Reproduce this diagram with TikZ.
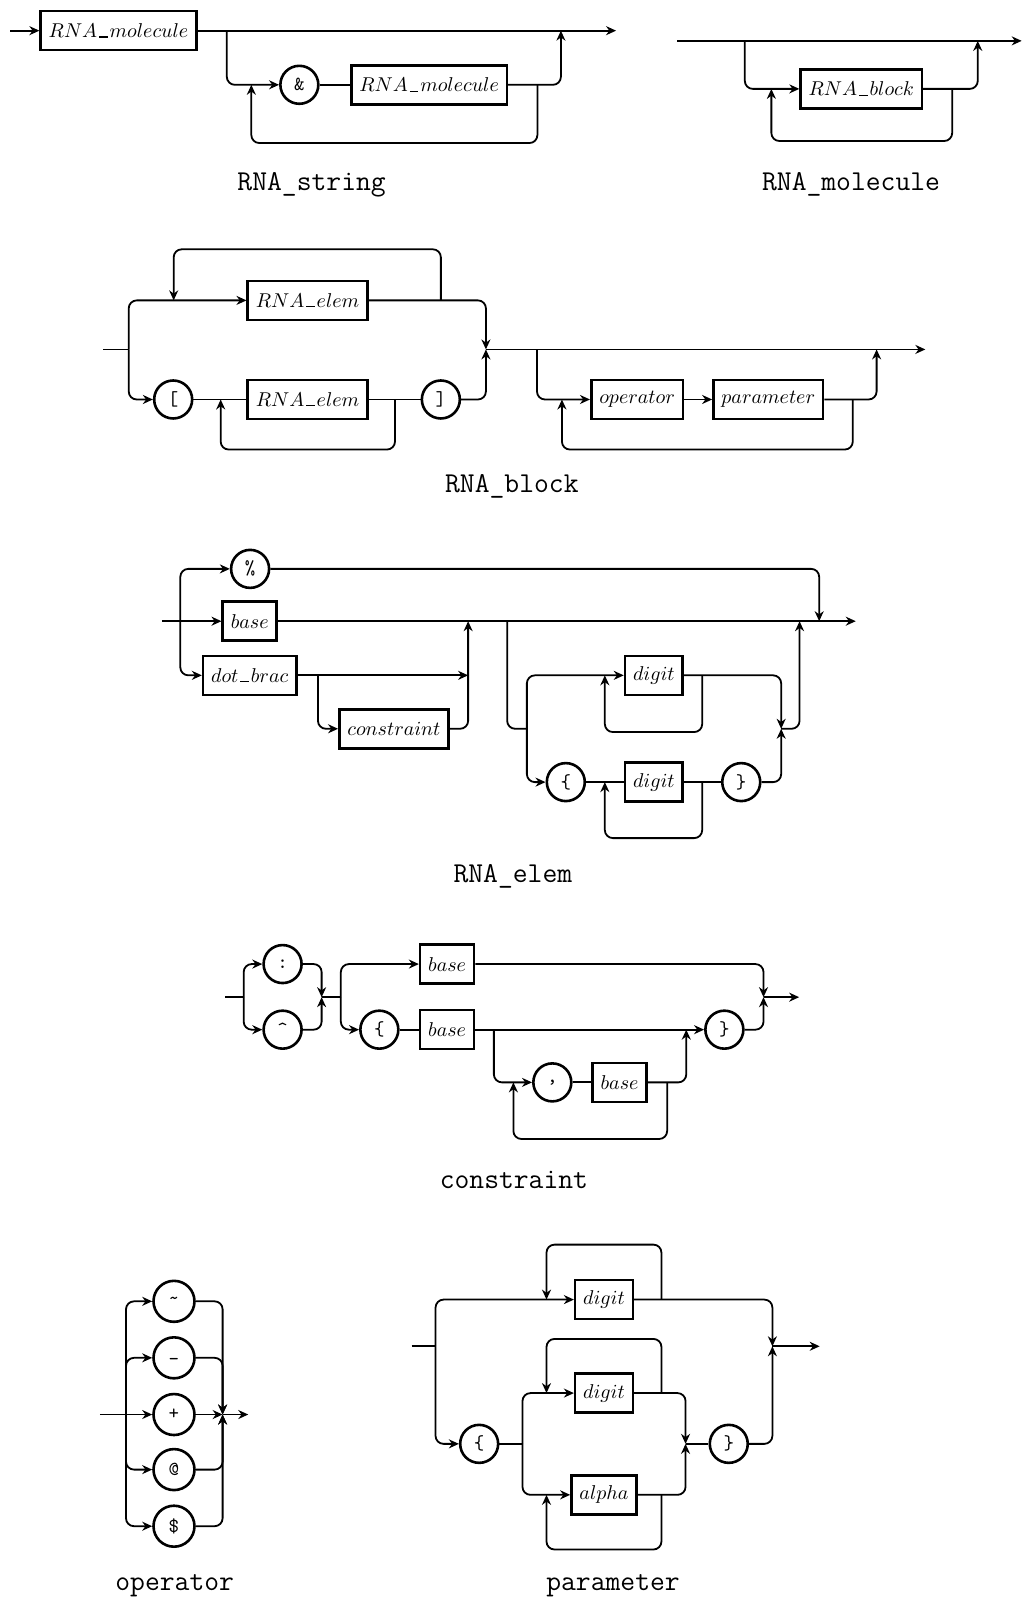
\documentclass[tikz,border=0pt]{standalone}
\usepackage{tikz}
\usetikzlibrary{arrows.meta, positioning}

\newcommand{\uscore}{\mbox{\kern.1em\rule{.42em}{.6pt}\kern.1em}}

\tikzset{
  nt/.style={rectangle, draw, line width=1.3pt, minimum height=19.5pt,
             inner xsep=4pt, inner ysep=0pt},
  tm/.style={circle, draw, line width=1.3pt, minimum size=19pt,
             inner sep=0pt, font=\ttfamily},
  rail/.style={line width=0.9pt, rounded corners=4pt},
  arr/.style={rail, -{Stealth[length=5pt,width=4.5pt]}},
  caption/.style={font=\Large\ttfamily}
}

\begin{document}
\begin{tikzpicture}[x=0.511pt, y=-0.511pt]
  \useasboundingbox (0,0) rectangle (1001,1568);

  % RNA_string
  \coordinate (s-in) at (10,30);
  \node[nt] (s-mol1) at (116,30) {$RNA\uscore molecule$};
  \coordinate (s-split) at (222,30);
  \coordinate (s-join) at (549,30);
  \coordinate (s-out) at (603,30);
  \node[tm] (s-amp) at (293,83) {\&};
  \node[nt] (s-mol2) at (420,83) {$RNA\uscore molecule$};
  \coordinate (s-back) at (526,83);
  \coordinate (s-ret) at (246,83);
  \node[caption] (s-cap) at (305,181) {RNA\_string};

  \draw[arr] (s-in) -- (s-mol1);
  \draw[arr] (s-mol1) -- (s-out);
  \draw[arr] (s-split) |- (s-amp);
  \draw[rail] (s-amp) -- (s-mol2);
  \draw[arr] (s-mol2) -| (s-join);
  \draw[arr] (s-back) -- ++(0,57) -| (s-ret);

  % RNA_molecule
  \coordinate (m-in) at (663,40);
  \coordinate (m-split) at (729,40);
  \coordinate (m-join) at (957,40);
  \coordinate (m-out) at (1000,40);
  \node[nt] (m-blk) at (843,87) {$RNA\uscore block$};
  \coordinate (m-back) at (932,87);
  \coordinate (m-ret) at (755,87);
  \node[caption] (m-cap) at (833,180) {RNA\_molecule};

  \draw[arr] (m-in) -- (m-out);
  \draw[arr] (m-split) |- (m-blk);
  \draw[arr] (m-blk) -| (m-join);
  \draw[arr] (m-back) -- ++(0,51) -| (m-ret);

  % RNA_block
  \coordinate (b-in) at (101,342);
  \coordinate (b-split) at (126,342);
  \coordinate (b-merge) at (475.6,342);
  \node[nt] (b-elem1) at (301,294) {$RNA\uscore elem$};
  \node[tm] (b-lbr) at (169.5,391) {[};
  \node[nt] (b-elem2) at (301,391) {$RNA\uscore elem$};
  \node[tm] (b-rbr) at (431.5,391) {]};
  \coordinate (b-topback) at (431.5,294);
  \coordinate (b-topret) at (170,294);
  \coordinate (b-botback) at (386.6,391);
  \coordinate (b-botret) at (216,391);
  \coordinate (b-split2) at (525.6,342);
  \node[nt] (b-op) at (623.6,391) {$operator$};
  \node[nt] (b-par) at (752,391) {$parameter$};
  \coordinate (b-join) at (858,342);
  \coordinate (b-out) at (905.7,342);
  \coordinate (b-back) at (834.7,391);
  \coordinate (b-ret) at (550,391);
  \node[caption] (b-cap) at (501,476) {RNA\_block};

  \draw[rail] (b-in) -- (b-split);
  \draw[arr] (b-split) |- (b-elem1);
  \draw[arr] (b-split) |- (b-lbr);
  \draw[arr] (b-elem1) -| (b-merge);
  \draw[arr] (b-topback) -- ++(0,-50) -| (b-topret);
  \draw[rail] (b-lbr) -- (b-elem2);
  \draw[rail] (b-elem2) -- (b-rbr);
  \draw[arr] (b-botback) -- ++(0,49) -| (b-botret);
  \draw[arr] (b-rbr) -| (b-merge);
  \draw[arr] (b-merge) -- (b-out);
  \draw[arr] (b-split2) |- (b-op);
  \draw[arr] (b-op) -- (b-par);
  \draw[arr] (b-par) -| (b-join);
  \draw[arr] (b-back) -- ++(0,49) -| (b-ret);

  % RNA_elem
  \coordinate (e-in) at (158.5,608);
  \coordinate (e-split) at (176.5,608);
  \node[tm] (e-pct) at (244.8,556.8) {\%};
  \node[nt] (e-base) at (244.4,608) {$base$};
  \node[nt] (e-dot) at (244.4,661) {$dot\uscore brac$};
  \coordinate (e-pmerge) at (801.8,608);
  \coordinate (e-out) at (837.6,608);
  \coordinate (e-dmid) at (458.2,661);
  \coordinate (e-dsplit) at (311.2,661);
  \node[nt] (e-con) at (385.6,713.3) {$constraint$};
  \coordinate (e-cjoin) at (458.2,608);
  \coordinate (e-split2) at (496.4,608);
  \coordinate (e-fork) at (515.7,713.3);
  \node[nt] (e-dig1) at (640,661) {$digit$};
  \node[tm] (e-lcb) at (553.8,765.5) {\{};
  \node[nt] (e-dig2) at (640,765.5) {$digit$};
  \node[tm] (e-rcb) at (725.5,765.5) {\}};
  \coordinate (e-d1back) at (687.3,661);
  \coordinate (e-d1ret) at (592,661);
  \coordinate (e-d2back) at (687.3,765.5);
  \coordinate (e-d2ret) at (592,765.5);
  \coordinate (e-dmerge) at (764.6,713.3);
  \coordinate (e-djoin) at (782.6,608);
  \node[caption] (e-cap) at (502,858) {RNA\_elem};

  \draw[arr] (e-in) -- (e-base);
  \draw[arr] (e-split) |- (e-pct);
  \draw[arr] (e-split) |- (e-dot);
  \draw[arr] (e-pct) -| (e-pmerge);
  \draw[arr] (e-base) -- (e-out);
  \draw[arr] (e-dot) -- (e-dmid);
  \draw[arr] (e-dsplit) |- (e-con);
  \draw[arr] (e-con) -| (e-cjoin);
  \draw[rail] (e-split2) |- (e-fork);
  \draw[arr] (e-fork) |- (e-dig1);
  \draw[arr] (e-fork) |- (e-lcb);
  \draw[rail] (e-lcb) -- (e-dig2);
  \draw[rail] (e-dig2) -- (e-rcb);
  \draw[arr] (e-d1back) -- ++(0,55.5) -| (e-d1ret);
  \draw[arr] (e-d2back) -- ++(0,54.8) -| (e-d2ret);
  \draw[arr] (e-dig1) -| (e-dmerge);
  \draw[arr] (e-rcb) -| (e-dmerge);
  \draw[arr] (e-dmerge) -| (e-djoin);

  % constraint
  \coordinate (c-in) at (220.5,976);
  \coordinate (c-split) at (238.5,976);
  \node[tm] (c-col) at (276.6,943.6) {:};
  \node[tm] (c-hat) at (276.6,1007.8) {\textasciicircum};
  \coordinate (c-m1) at (314.8,976);
  \coordinate (c-split2) at (333.6,976);
  \node[nt] (c-base1) at (437.6,943.6) {$base$};
  \node[tm] (c-lcb) at (371.3,1007.8) {\{};
  \node[nt] (c-base2) at (437.6,1007.8) {$base$};
  \node[tm] (c-rcb) at (709,1007.8) {\}};
  \coordinate (c-m2) at (747.3,976);
  \coordinate (c-out) at (782.2,976);
  \coordinate (c-bsplit) at (483.4,1007.8);
  \node[tm] (c-com) at (540.6,1059.4) {,};
  \node[nt] (c-base3) at (606.4,1059.4) {$base$};
  \coordinate (c-bjoin) at (671.7,1007.8);
  \coordinate (c-back) at (653,1059.4);
  \coordinate (c-ret) at (502.5,1059.4);
  \node[caption] (c-cap) at (503,1155) {constraint};

  \draw[rail] (c-in) -- (c-split);
  \draw[arr] (c-split) |- (c-col);
  \draw[arr] (c-split) |- (c-hat);
  \draw[arr] (c-col) -| (c-m1);
  \draw[arr] (c-hat) -| (c-m1);
  \draw[rail] (c-m1) -- (c-split2);
  \draw[arr] (c-split2) |- (c-base1);
  \draw[arr] (c-split2) |- (c-lcb);
  \draw[rail] (c-lcb) -- (c-base2);
  \draw[arr] (c-base2) -- (c-rcb);
  \draw[arr] (c-bsplit) |- (c-com);
  \draw[rail] (c-com) -- (c-base3);
  \draw[arr] (c-base3) -| (c-bjoin);
  \draw[arr] (c-back) -- ++(0,55.4) -| (c-ret);
  \draw[arr] (c-base1) -| (c-m2);
  \draw[arr] (c-rcb) -| (c-m2);
  \draw[arr] (c-m2) -- (c-out);

  % operator
  \coordinate (o-in) at (97.8,1384.5);
  \coordinate (o-split) at (123.3,1384.5);
  \node[tm, minimum size=20.5pt] (o-tilde) at (170.3,1273.7) {\textasciitilde};
  \node[tm, minimum size=20.5pt] (o-under) at (170.3,1329) {\_};
  \node[tm, minimum size=20.5pt] (o-plus) at (170.3,1384.5) {+};
  \node[tm, minimum size=20.5pt] (o-at) at (170.3,1438.4) {@};
  \node[tm, minimum size=20.5pt] (o-dollar) at (170.3,1493.8) {\$};
  \coordinate (o-merge) at (217.9,1384.5);
  \coordinate (o-out) at (243,1384.5);
  \node[caption] (o-cap) at (171,1552.5) {operator};

  \draw[arr] (o-in) -- (o-plus);
  \draw[arr] (o-split) |- (o-tilde);
  \draw[arr] (o-split) |- (o-under);
  \draw[arr] (o-split) |- (o-at);
  \draw[arr] (o-split) |- (o-dollar);
  \draw[arr] (o-plus) -- (o-merge);
  \draw[arr] (o-tilde) -| (o-merge);
  \draw[arr] (o-under) -| (o-merge);
  \draw[arr] (o-at) -| (o-merge);
  \draw[arr] (o-dollar) -| (o-merge);
  \draw[arr] (o-merge) -- (o-out);

  % parameter
  \coordinate (p-in) at (402.8,1317.7);
  \coordinate (p-split) at (426.3,1317.7);
  \node[nt] (p-dig1) at (591.2,1272) {$digit$};
  \coordinate (p-tback) at (647.4,1272);
  \coordinate (p-tret) at (534.9,1272);
  \coordinate (p-m) at (756,1317.7);
  \coordinate (p-out) at (802.3,1317.7);
  \node[tm] (p-lcb) at (469,1413.2) {\{};
  \coordinate (p-fork) at (511.4,1413.2);
  \node[nt] (p-dig2) at (591.2,1363.5) {$digit$};
  \node[nt] (p-alpha) at (591.2,1463.1) {$alpha$};
  \coordinate (p-d2back) at (647.4,1363.5);
  \coordinate (p-d2ret) at (534.9,1363.5);
  \coordinate (p-aback) at (647.4,1463.1);
  \coordinate (p-aret) at (534.9,1463.1);
  \coordinate (p-imerge) at (671,1413.2);
  \node[tm] (p-rcb) at (713.3,1413.2) {\}};
  \node[caption] (p-cap) at (600,1552.5) {parameter};

  \draw[rail] (p-in) -- (p-split);
  \draw[arr] (p-split) |- (p-dig1);
  \draw[arr] (p-split) |- (p-lcb);
  \draw[arr] (p-tback) -- ++(0,-53.8) -| (p-tret);
  \draw[arr] (p-dig1) -| (p-m);
  \draw[rail] (p-lcb) -- (p-fork);
  \draw[arr] (p-fork) |- (p-dig2);
  \draw[arr] (p-fork) |- (p-alpha);
  \draw[arr] (p-d2back) -- ++(0,-53) -| (p-d2ret);
  \draw[arr] (p-aback) -- ++(0,53.5) -| (p-aret);
  \draw[arr] (p-dig2) -| (p-imerge);
  \draw[arr] (p-alpha) -| (p-imerge);
  \draw[rail] (p-imerge) -- (p-rcb);
  \draw[arr] (p-rcb) -| (p-m);
  \draw[arr] (p-m) -- (p-out);
\end{tikzpicture}
\end{document}
